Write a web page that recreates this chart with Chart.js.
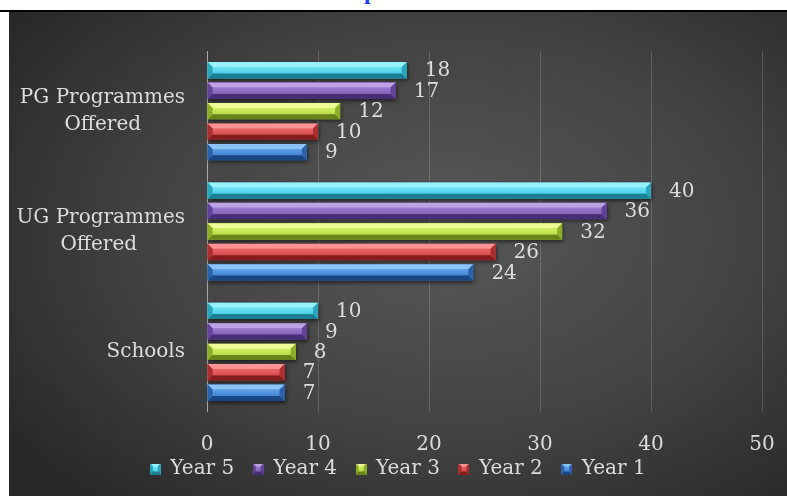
<!DOCTYPE html>
<html>
<head>
<meta charset="utf-8">
<script src="https://cdn.jsdelivr.net/npm/chart.js@4.4.1/dist/chart.umd.min.js"></script>
<style>
  html, body { margin: 0; padding: 0; background: #fff; width: 787px; height: 496px; overflow: hidden; position: relative; }
  #heading { position: absolute; left: 0; top: 0; width: 787px; height: 10px; overflow: hidden; }
  #heading span { position: absolute; left: 364px; top: -21px; font: bold 24px 'Liberation Serif', serif; line-height: 24px; color: #1f3fff; }
  #rule { position: absolute; left: 0; top: 10px; width: 787px; height: 2px; background: #000; }
  #wrap { position: absolute; left: 9px; top: 12px; width: 778px; height: 484px; }
</style>
</head>
<body>
<div id="heading"><span>p</span></div>
<div id="rule"></div>
<div id="wrap"><canvas id="chart" width="778" height="484"></canvas></div>
<script>
// ---- data ----
const categories = [['PG Programmes', 'Offered'], ['UG Programmes', 'Offered'], 'Schools'];
const seriesNames = ['Year 5', 'Year 4', 'Year 3', 'Year 2', 'Year 1'];
const year5 = [18, 40, 10];
const year4 = [17, 36, 9];
const year3 = [12, 32, 8];
const year2 = [10, 26, 7];
const year1 = [9, 24, 7];
const xTickValues = [0, 10, 20, 30, 40, 50];

// ---- styling ----
const FONT_FAMILY = "'DejaVu Serif', 'Liberation Serif', serif";
const TEXT = '#dcdcdc';
const palette = [
  { base: '#3ec6de', light: '#98f2fd', top: '#72e4f6', face: '#4ccfe6', dark: '#1a7f94', side: '#2aa5bb' },
  { base: '#7c58ac', light: '#bea2e6', top: '#9c7ace', face: '#8562b6', dark: '#472e76', side: '#62439a' },
  { base: '#acd03c', light: '#eefc98', top: '#d4f064', face: '#b8da48', dark: '#68841a', side: '#8dad28' },
  { base: '#cf4343', light: '#fa9494', top: '#ea6868', face: '#d44c4c', dark: '#841e1e', side: '#ab2f2f' },
  { base: '#3a7bcb', light: '#8cc4f8', top: '#5ea2e8', face: '#4386d4', dark: '#1b4684', side: '#2b62aa' }
];

// Draws a bevelled block (raised bar look) in the rectangle x0..x1, y0..y1
function bevelBlock(ctx, x0, y0, x1, y1, c, b) {
  const w = x1 - x0, h = y1 - y0;
  b = Math.max(1, Math.min(b, w / 2, h / 2));
  ctx.save();
  const g = ctx.createLinearGradient(0, y0 + b, 0, y1 - b);
  g.addColorStop(0, c.top);
  g.addColorStop(1, c.face);
  ctx.fillStyle = g;
  ctx.fillRect(x0 + b, y0 + b, w - 2 * b, h - 2 * b);
  const poly = (pts, col) => {
    ctx.beginPath();
    ctx.moveTo(pts[0][0], pts[0][1]);
    for (let i = 1; i < pts.length; i++) ctx.lineTo(pts[i][0], pts[i][1]);
    ctx.closePath();
    ctx.fillStyle = col;
    ctx.fill();
  };
  poly([[x0, y0], [x1, y0], [x1 - b, y0 + b], [x0 + b, y0 + b]], c.light);
  poly([[x0, y1], [x1, y1], [x1 - b, y1 - b], [x0 + b, y1 - b]], c.dark);
  poly([[x1, y0], [x1, y1], [x1 - b, y1 - b], [x1 - b, y0 + b]], c.side);
  poly([[x0, y0], [x0 + b, y0 + b], [x0 + b, y1 - b], [x0, y1]], c.side);
  ctx.restore();
}

// Small bevelled squares used as legend markers
const markers = palette.map(c => {
  const cv = document.createElement('canvas');
  cv.width = 11; cv.height = 11;
  bevelBlock(cv.getContext('2d'), 0, 0, 11, 11, c, 3);
  return cv;
});

// Centre the lines of a multi-line category label inside its block
const measureCtx = document.createElement('canvas').getContext('2d');
measureCtx.font = '20px ' + FONT_FAMILY;
function centredLines(label) {
  if (!Array.isArray(label)) return label;
  const widths = label.map(l => measureCtx.measureText(l).width);
  const maxW = Math.max(...widths);
  const sp = measureCtx.measureText('\u2009').width;
  return label.map((l, i) => l + '\u2009'.repeat(Math.round((maxW - widths[i]) / 2 / sp)));
}

const backgroundPlugin = {
  id: 'panelBackground',
  beforeDraw(chart) {
    const { ctx, width, height } = chart;
    ctx.save();
    ctx.translate(440, 220);
    ctx.scale(1.5, 1);
    const g = ctx.createRadialGradient(0, 0, 0, 0, 0, 360);
    g.addColorStop(0, '#585858');
    g.addColorStop(0.55, '#434343');
    g.addColorStop(1, '#282828');
    ctx.fillStyle = g;
    ctx.fillRect(-440 / 1.5, -220, width / 1.5 + 10, height + 10);
    ctx.restore();
  }
};

const bevelPlugin = {
  id: 'bevelBars',
  beforeDatasetsDraw(chart) {
    const ctx = chart.ctx;
    ctx.save();
    ctx.shadowColor = 'rgba(0,0,0,0.55)';
    ctx.shadowBlur = 4;
    ctx.shadowOffsetY = 2;
    ctx.shadowOffsetX = 1;
  },
  afterDatasetsDraw(chart) {
    const ctx = chart.ctx;
    ctx.restore();
    chart.data.datasets.forEach((ds, di) => {
      const meta = chart.getDatasetMeta(di);
      meta.data.forEach((el, i) => {
        const p = el.getProps(['x', 'y', 'base', 'height'], true);
        const x0 = Math.min(p.base, p.x), x1 = Math.max(p.base, p.x);
        const y0 = p.y - p.height / 2, y1 = p.y + p.height / 2;
        bevelBlock(ctx, x0, y0, x1, y1, palette[di], 5);
        // value label
        ctx.save();
        ctx.font = '20px ' + FONT_FAMILY;
        ctx.fillStyle = TEXT;
        ctx.textAlign = 'left';
        ctx.textBaseline = 'middle';
        ctx.fillText(String(ds.data[i]), x1 + 18, p.y + 1);
        ctx.restore();
      });
    });
  }
};

const seriesValues = [year5, year4, year3, year2, year1];
const datasets = seriesNames.map((name, i) => ({
  label: name,
  data: seriesValues[i],
  backgroundColor: palette[i].base,
  borderWidth: 0,
  categoryPercentage: 0.85,
  barPercentage: 0.8
}));

new Chart(document.getElementById('chart'), {
  type: 'bar',
  data: { labels: categories, datasets },
  plugins: [backgroundPlugin, bevelPlugin],
  options: {
    indexAxis: 'y',
    responsive: false,
    animation: false,
    layout: { padding: { left: 0, right: 0, top: 39, bottom: 7 } },
    scales: {
      x: {
        min: 0, max: 50,
        afterBuildTicks: s => { s.ticks = xTickValues.map(v => ({ value: v })); },
        afterFit: s => { s.height = 28; },
        ticks: { color: TEXT, mirror: true, padding: -45, font: { family: FONT_FAMILY, size: 20 } },
        grid: {
          drawTicks: false,
          lineWidth: 1,
          color: c => (c.tick && c.tick.value === 0) ? '#a9a9a9' : 'rgba(255,255,255,0.17)'
        },
        border: { display: false }
      },
      y: {
        afterFit: s => { s.width = 198; },
        ticks: {
          color: TEXT,
          padding: 22,
          font: { family: FONT_FAMILY, size: 20, lineHeight: 1.33 },
          callback: (v, i) => centredLines(categories[i])
        },
        grid: { display: false, drawTicks: false },
        border: { display: false }
      },
      // empty right-hand margin axis (keeps the plot's right edge clear of the frame)
      yRight: {
        type: 'category',
        position: 'right',
        afterFit: s => { s.width = 25; },
        ticks: { display: false },
        grid: { display: false, drawTicks: false },
        border: { display: false }
      }
    },
    plugins: {
      legend: {
        position: 'bottom',
        labels: {
          color: TEXT,
          font: { family: FONT_FAMILY, size: 20 },
          padding: 19,
          usePointStyle: true,
          boxWidth: 10,
          boxHeight: 10,
          generateLabels: chart => Chart.defaults.plugins.legend.labels.generateLabels(chart)
            .map(item => Object.assign(item, { pointStyle: markers[item.datasetIndex] }))
        }
      },
      tooltip: { enabled: false }
    }
  }
});
</script>
</body>
</html>
